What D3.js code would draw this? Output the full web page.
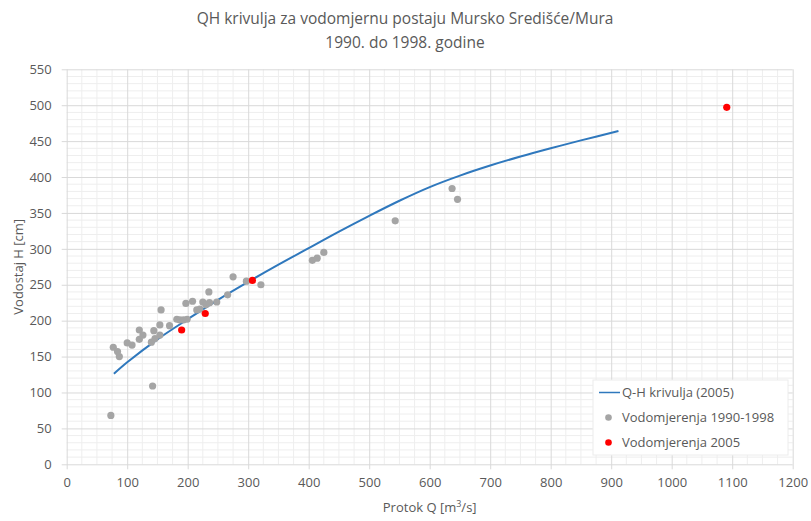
<!DOCTYPE html>
<html>
<head>
<meta charset="utf-8">
<script src="https://cdn.jsdelivr.net/npm/d3@7"></script>
<style>
  html, body { margin: 0; padding: 0; background: #fff; }
  svg { display: block; font-family: "Open Sans", "DejaVu Sans", sans-serif; }
</style>
</head>
<body>
<svg id="chart" width="811" height="521"></svg>
<script>
// ---- Data ----
const titleLines = ["QH krivulja za vodomjernu postaju Mursko Središće/Mura", "1990. do 1998. godine"];
const xTicks = [0, 100, 200, 300, 400, 500, 600, 700, 800, 900, 1000, 1100, 1200];
const yTicks = [0, 50, 100, 150, 200, 250, 300, 350, 400, 450, 500, 550];

// Q-H curve (2005)
const curveQ = [78, 100, 150, 200, 250, 300, 350, 400, 450, 500, 550, 600, 650, 700, 750, 800, 850, 912];
const curveH = [126, 142, 174, 202, 229, 254, 278, 301, 324, 346, 367, 386, 402, 416, 428.5, 440, 451, 464];

// Measurements 1990-1998
const obsQ = [73, 142, 77, 84, 87, 100, 108, 120, 120, 126, 140, 146, 144, 154, 156, 154, 170, 182, 187, 193, 199, 197, 208, 215, 220, 225, 230, 236, 235, 248, 266, 275, 297, 321, 406, 414, 425, 543, 637, 646];
const obsH = [68, 109, 163, 157, 150, 169, 166, 187, 174, 180, 170, 175, 186, 194, 215, 180, 193, 202, 201, 201, 202, 224, 227, 215, 216, 226, 222, 225, 240, 226, 236, 261, 255, 250, 284, 287, 295, 339, 384, 369];

// Measurements 2005
const newQ = [190, 229, 307, 1091];
const newH = [187, 210, 256, 497];

const legendLabels = ["Q-H krivulja (2005)", "Vodomjerenja 1990-1998", "Vodomjerenja 2005"];

// ---- Layout ----
const W = 811, H = 521;
const margin = { left: 66.7, right: 18.3, top: 69.3, bottom: 56.7 };
const iw = W - margin.left - margin.right;
const ih = H - margin.top - margin.bottom;

const txtColor = "#595959";
const majorGrid = "#d9d9d9";
const minorGrid = "#eeeeee";

const svg = d3.select("#chart");
const x = d3.scaleLinear().domain([0, 1200]).range([margin.left, margin.left + iw]);
const y = d3.scaleLinear().domain([0, 550]).range([margin.top + ih, margin.top]);

// Minor grid
const g = svg.append("g");
g.selectAll("line.minx").data(d3.range(0, 1201, 25).filter(v => v % 100 !== 0))
  .join("line").attr("x1", d => x(d)).attr("x2", d => x(d))
  .attr("y1", y(0)).attr("y2", y(550))
  .attr("stroke", minorGrid).attr("stroke-width", 1);
g.selectAll("line.miny").data(d3.range(0, 551, 10).filter(v => v % 50 !== 0))
  .join("line").attr("y1", d => y(d)).attr("y2", d => y(d))
  .attr("x1", x(0)).attr("x2", x(1200))
  .attr("stroke", minorGrid).attr("stroke-width", 1);

// Major grid via axes
const fmt = d3.format("d");
const xAxis = d3.axisBottom(x).tickValues(xTicks).tickFormat(fmt).tickSize(ih + 5).tickSizeOuter(0).tickPadding(8);
const yAxis = d3.axisLeft(y).tickValues(yTicks).tickFormat(fmt).tickSize(iw + 5).tickSizeOuter(0).tickPadding(10);

const gx = svg.append("g").attr("transform", `translate(0,${margin.top})`).call(xAxis);
const gy = svg.append("g").attr("transform", `translate(${margin.left + iw},0)`).call(yAxis);
[gx, gy].forEach(a => {
  a.select(".domain").remove();
  a.selectAll(".tick line").attr("stroke", majorGrid).attr("stroke-width", 1);
  a.selectAll(".tick text").attr("fill", txtColor).attr("font-size", 13)
    .attr("font-family", '"Open Sans", sans-serif');
});

// Curve
const curveData = curveQ.map((q, i) => [q, curveH[i]]);
svg.append("path").datum(curveData)
  .attr("fill", "none").attr("stroke", "#2f78bd").attr("stroke-width", 2)
  .attr("d", d3.line().x(d => x(d[0])).y(d => y(d[1])).curve(d3.curveCatmullRom.alpha(0.5)));

// Points
svg.append("g").selectAll("circle").data(obsQ.map((q, i) => [q, obsH[i]]))
  .join("circle").attr("cx", d => x(d[0])).attr("cy", d => y(d[1])).attr("r", 3.6)
  .attr("fill", "#a5a5a5");
svg.append("g").selectAll("circle").data(newQ.map((q, i) => [q, newH[i]]))
  .join("circle").attr("cx", d => x(d[0])).attr("cy", d => y(d[1])).attr("r", 3.6)
  .attr("fill", "#ff0000");

// Title
svg.append("text").attr("x", 405).attr("y", 24).attr("text-anchor", "middle")
  .attr("font-size", 15.5).attr("fill", txtColor).text(titleLines[0]);
svg.append("text").attr("x", 405).attr("y", 48).attr("text-anchor", "middle")
  .attr("font-size", 15.5).attr("fill", txtColor).text(titleLines[1]);

// Axis titles
const xt = svg.append("text").attr("x", margin.left + iw / 2).attr("y", 512)
  .attr("text-anchor", "middle").attr("font-size", 13).attr("fill", txtColor);
xt.append("tspan").text("Protok Q [m");
xt.append("tspan").attr("font-size", 9).attr("dy", -5).text("3");
xt.append("tspan").attr("dy", 5).text("/s]");

svg.append("text").attr("transform", `translate(23,${margin.top + ih / 2}) rotate(-90)`)
  .attr("text-anchor", "middle").attr("font-size", 13).attr("fill", txtColor)
  .text("Vodostaj H [cm]");

// Legend
const lg = svg.append("g");
lg.append("rect").attr("x", 593).attr("y", 380).attr("width", 195).attr("height", 75)
  .attr("fill", "#fff").attr("stroke", "#ececec");
const rows = [392.5, 417.5, 442.5];
lg.append("line").attr("x1", 599).attr("x2", 620).attr("y1", rows[0]).attr("y2", rows[0])
  .attr("stroke", "#2f78bd").attr("stroke-width", 1.5);
lg.append("circle").attr("cx", 608.5).attr("cy", rows[1]).attr("r", 3.3).attr("fill", "#a5a5a5");
lg.append("circle").attr("cx", 608.5).attr("cy", rows[2]).attr("r", 3.3).attr("fill", "#ff0000");
legendLabels.forEach((t, i) => {
  lg.append("text").attr("x", 622).attr("y", rows[i]).attr("dy", "0.35em")
    .attr("font-size", 13).attr("fill", txtColor).text(t);
});
</script>
</body>
</html>
